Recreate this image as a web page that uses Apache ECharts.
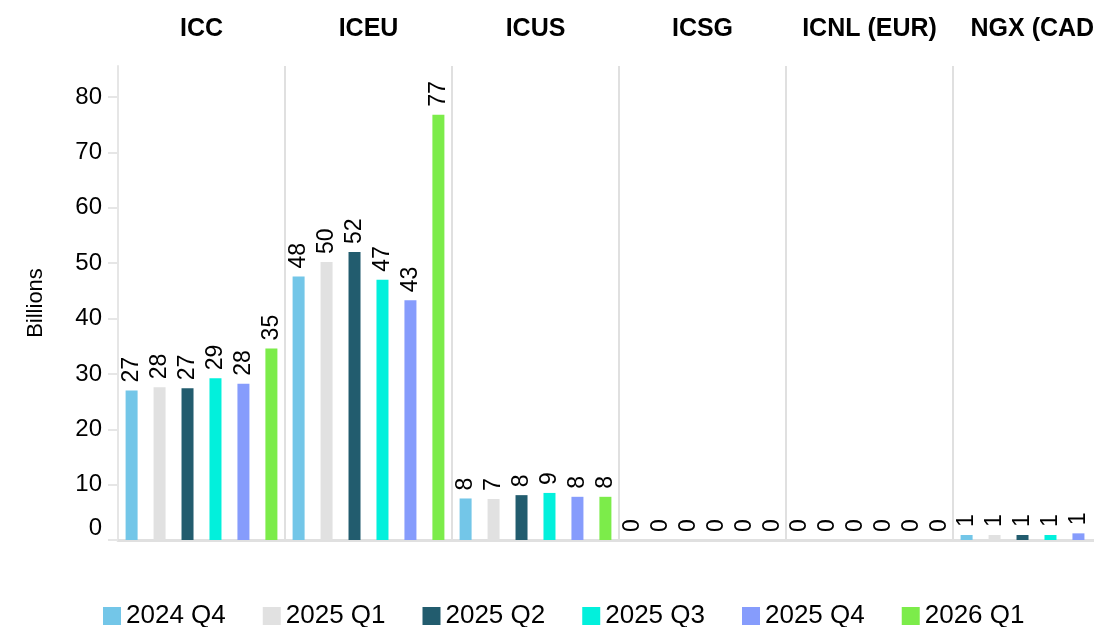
<!DOCTYPE html>
<html>
<head>
<meta charset="utf-8">
<style>
  html, body { margin: 0; padding: 0; background: #fff; }
  #chart { width: 1094px; height: 627px; }
</style>
<script src="https://cdn.jsdelivr.net/npm/echarts@6/dist/echarts.min.js"></script>
</head>
<body>
<div id="chart"></div>
<script>
var categories = ['ICC', 'ICEU', 'ICUS', 'ICSG', 'ICNL (EUR)', 'NGX (CAD)'];
var quarters = ['2024 Q4', '2025 Q1', '2025 Q2', '2025 Q3', '2025 Q4', '2026 Q1'];
var colors = ['#73c6e8', '#e1e1e1', '#225c6e', '#02f0dc', '#869cfc', '#7cec4a'];
var yTicks = [0, 10, 20, 30, 40, 50, 60, 70, 80];

// one list per quarter, values per exchange (billions)
var q2024q4 = [27.0, 47.6, 7.5, 0, 0, 0.9];
var q2025q1 = [27.6, 50.2, 7.4, 0, 0, 0.9];
var q2025q2 = [27.4, 52.0, 8.1, 0, 0, 0.9];
var q2025q3 = [29.2, 47.0, 8.5, 0, 0, 0.9];
var q2025q4 = [28.2, 43.3, 7.8, 0, 0, 1.2];
var q2026q1 = [34.6, 76.8, 7.8, 0, 0, 1.0];
var seriesData = [q2024q4, q2025q1, q2025q2, q2025q3, q2025q4, q2026q1];

var chart = echarts.init(document.getElementById('chart'));
var font = 'Liberation Sans, Arial, sans-serif';

var series = [];
for (var i = 0; i < quarters.length; i++) {
    series.push({
        name: quarters[i],
        type: 'bar',
        barWidth: 12,
        barGap: '133%',
        itemStyle: { color: colors[i] },
        label: {
            show: true,
            position: 'top',
            rotate: 90,
            align: 'left',
            verticalAlign: 'middle',
            distance: 8,
            fontSize: 23,
            fontFamily: font,
            color: '#000',
            formatter: function (p) { return Math.round(p.value); }
        },
        data: seriesData[i]
    });
}

chart.setOption({
    animation: false,
    // the last group runs past the right edge, like the original
    grid: { left: 118, width: 1002, top: 66, bottom: 87, outerBoundsMode: 'none' },
    legend: {
        data: quarters,
        left: 98,
        top: 598,
        itemWidth: 18,
        itemHeight: 18,
        itemGap: 37,
        itemTextGap: 10,
        itemStyle: { borderWidth: 0 },
        textStyle: { fontSize: 26, fontFamily: font, color: '#000' },
        icon: 'rect'
    },
    xAxis: [{
        type: 'category',
        data: categories,
        position: 'top',
        axisLine: { show: true, lineStyle: { color: '#e6e6e6', width: 2 } },
        axisTick: { show: false },
        splitLine: { show: true, lineStyle: { color: '#e0e0e0', width: 2 } },
        axisLabel: {
            margin: 24,
            fontSize: 25,
            fontWeight: 'bold',
            fontFamily: font,
            color: '#000',
            interval: 0
        }
    }, {
        type: 'category',
        data: categories,
        position: 'bottom',
        axisLine: { show: true, lineStyle: { color: '#e0e0e0', width: 3 } },
        axisTick: { show: false },
        axisLabel: { show: false }
    }],
    yAxis: {
        type: 'value',
        min: 0,
        max: 85.6,
        interval: 10,
        name: 'Billions',
        nameLocation: 'middle',
        nameGap: 71,
        nameTextStyle: { fontSize: 22, fontFamily: font, color: '#000' },
        axisLine: { show: true, lineStyle: { color: '#e6e6e6', width: 2 } },
        axisTick: { show: true, length: 10, customValues: yTicks, lineStyle: { color: '#e6e6e6', width: 2 } },
        splitLine: { show: false },
        axisLabel: {
            margin: 16,
            fontSize: 24,
            fontFamily: font,
            color: '#000',
            customValues: yTicks,
            formatter: function (v) { return v === 0 ? '{z|0}' : String(v); },
            rich: { z: { fontSize: 24, fontFamily: font, color: '#000', padding: [0, 0, 24, 0] } }
        }
    },
    series: series
});
</script>
</body>
</html>
